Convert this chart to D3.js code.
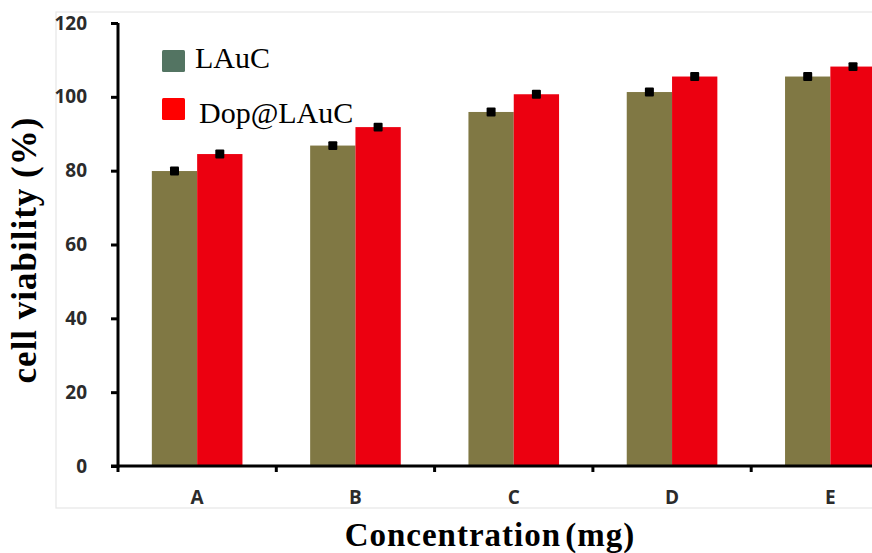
<!DOCTYPE html>
<html>
<head>
<meta charset="utf-8">
<script src="https://cdn.jsdelivr.net/npm/d3@7"></script>
<style>
  html, body { margin: 0; padding: 0; background: #fff; }
  svg { display: block; }
</style>
</head>
<body>
<svg id="chart" width="872" height="553"></svg>
<script>
// Cell viability for the two formulations at each concentration
const categories = ["A", "B", "C", "D", "E"];
const seriesNames = ["LAuC", "Dop@LAuC"];
const lauc = [79.9, 86.8, 95.9, 101.3, 105.5];
const dopLauc = [84.5, 91.8, 100.7, 105.5, 108.2];
const laucErr = [1.2, 1.2, 1.2, 1.2, 1.2];
const dopErr = [1.2, 1.2, 1.2, 1.2, 1.2];
const yTicks = [0, 20, 40, 60, 80, 100, 120];

const barColors = ["#807844", "#ec0010"];
const legendColors = ["#537462", "#ff0000"];

const svg = d3.select("#chart");

// light frame around the plotting region
svg.append("rect")
  .attr("x", 56).attr("y", 12)
  .attr("width", 900).attr("height", 496)
  .attr("fill", "none")
  .attr("stroke", "#e6e6e6")
  .attr("stroke-width", 1.2);

const x0 = d3.scaleBand()
  .domain(categories)
  .range([118, 118 + 5 * 158.3])
  .paddingInner(0).paddingOuter(0);

const x1 = d3.scaleBand()
  .domain(seriesNames)
  .range([0, x0.bandwidth()])
  .paddingInner(0)
  .paddingOuter(0.747);

const y = d3.scaleLinear().domain([0, 120]).range([466, 23]);

const rows = categories.map((c, i) => ({
  cat: c,
  vals: [
    { s: seriesNames[0], v: lauc[i], e: laucErr[i], k: 0 },
    { s: seriesNames[1], v: dopLauc[i], e: dopErr[i], k: 1 }
  ]
}));

const groups = svg.append("g").selectAll("g")
  .data(rows).join("g")
  .attr("transform", d => `translate(${x0(d.cat)},0)`);

groups.selectAll("rect.bar")
  .data(d => d.vals).join("rect")
  .attr("class", "bar")
  .attr("x", d => x1(d.s))
  .attr("y", d => y(d.v))
  .attr("width", x1.bandwidth())
  .attr("height", d => y(0) - y(d.v))
  .attr("fill", d => barColors[d.k]);

// error markers (mean ± sd)
groups.selectAll("rect.err")
  .data(d => d.vals).join("rect")
  .attr("class", "err")
  .attr("x", d => x1(d.s) + x1.bandwidth() / 2 - 4.5)
  .attr("y", d => y(d.v + d.e))
  .attr("width", 9)
  .attr("height", d => y(d.v - d.e) - y(d.v + d.e))
  .attr("rx", 1)
  .attr("fill", "#000");

const tickFont = sel => sel
  .style("font-family", "'Open Sans', sans-serif")
  .style("font-weight", 700)
  .style("font-size", "19px")
  .attr("fill", "#2b2b2b");

// y axis
const yAxis = svg.append("g")
  .attr("transform", "translate(118,0)")
  .call(d3.axisLeft(y).tickValues(yTicks).tickSize(7).tickPadding(24).tickFormat(d3.format("d")));
yAxis.select(".domain").attr("stroke", "#000").attr("stroke-width", 3)
  .attr("d", `M0,${y(120)}V${y(0) + 1.5}`);
yAxis.selectAll(".tick line").attr("stroke", "#000").attr("stroke-width", 3);
yAxis.selectAll(".tick text").call(tickFont);

// x axis: labels centred under groups, ticks at group boundaries
const xAxis = svg.append("g")
  .attr("transform", `translate(0,${y(0)})`)
  .call(d3.axisBottom(x0).tickSize(0).tickPadding(25));
xAxis.select(".domain").attr("stroke", "#000").attr("stroke-width", 3)
  .attr("d", `M${118 - 7},0H900`);
xAxis.selectAll(".tick text").call(tickFont);
xAxis.append("g").selectAll("line")
  .data(categories.slice(1).concat(["end"]))
  .join("line")
  .attr("x1", d => d === "end" ? x0.range()[1] : x0(d))
  .attr("x2", d => d === "end" ? x0.range()[1] : x0(d))
  .attr("y1", 0).attr("y2", 6)
  .attr("stroke", "#000").attr("stroke-width", 3);
xAxis.append("line")
  .attr("x1", 118).attr("x2", 118).attr("y1", 0).attr("y2", 6)
  .attr("stroke", "#000").attr("stroke-width", 3);

// axis titles
svg.append("text")
  .attr("transform", "translate(36,250) rotate(-90)")
  .attr("text-anchor", "middle")
  .attr("font-family", "'Liberation Serif', 'Times New Roman', serif")
  .attr("font-weight", 700)
  .attr("font-size", 35)
  .attr("letter-spacing", 1)
  .attr("fill", "#000")
  .text("cell viability (%)");

svg.append("text")
  .attr("x", 490).attr("y", 546)
  .attr("text-anchor", "middle")
  .attr("font-family", "'Liberation Serif', 'Times New Roman', serif")
  .attr("font-weight", 700)
  .attr("font-size", 33)
  .attr("letter-spacing", 1)
  .attr("word-spacing", -5)
  .attr("fill", "#000")
  .text("Concentration (mg)");

// legend
const legend = svg.append("g");
const legendRows = legend.selectAll("g")
  .data(seriesNames).join("g")
  .attr("transform", (d, i) => `translate(162,${50 + i * 48})`);
legendRows.append("rect")
  .attr("width", 23).attr("height", 22).attr("rx", 1.5)
  .attr("fill", (d, i) => legendColors[i]);
legendRows.append("text")
  .attr("x", (d, i) => i === 0 ? 33 : 37)
  .attr("y", (d, i) => i === 0 ? 18 : 25)
  .attr("font-family", "'Liberation Serif', 'Times New Roman', serif")
  .attr("font-size", 30)
  .attr("fill", "#000")
  .text(d => d);
</script>
</body>
</html>
